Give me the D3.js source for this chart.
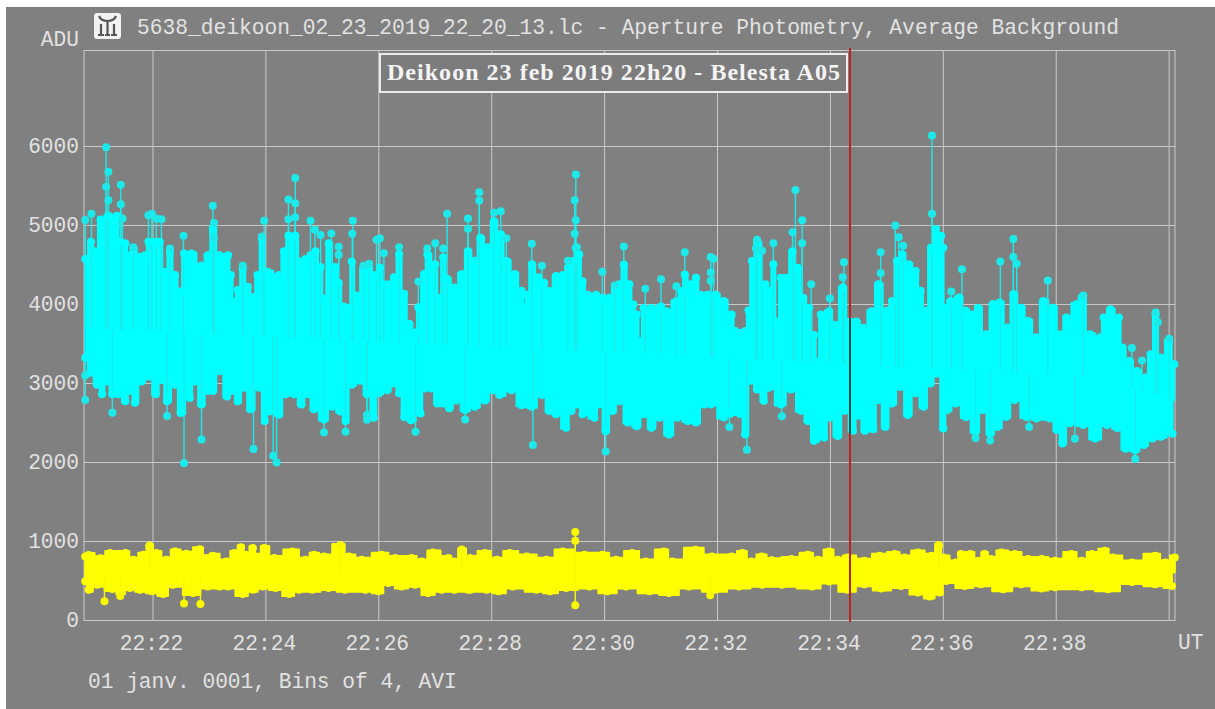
<!DOCTYPE html>
<html>
<head>
<meta charset="utf-8">
<script src="https://cdn.jsdelivr.net/npm/d3@7"></script>
<style>
  html, body { margin: 0; padding: 0; background: #fff; }
  svg { display: block; }
  text { font-family: "Liberation Mono", monospace; fill: #e2e2e2; }
</style>
</head>
<body>
<div id="chart"></div>
<script>
// readings, time in minutes past 22:00
const cyanTopMin = [20.80,20.90,20.98,21.07,21.21,21.36,21.42,21.51,21.57,21.65,21.77,21.86,21.92,22.04,22.12,22.21,22.30,22.39,22.48,22.55,22.68,22.86,22.97,23.06,23.18,23.33,23.38,23.44,23.50,23.59,23.68,23.77,23.85,23.93,24.03,24.23,24.32,24.40,24.52,24.62,24.70,24.79,24.88,24.97,25.03,25.11,25.23,25.29,25.38,25.47,25.52,25.61,25.73,25.82,25.94,26.02,26.09,26.18,26.27,26.36,26.45,26.54,26.65,26.70,26.80,26.86,27.00,27.07,27.14,27.21,27.34,27.47,27.58,27.70,27.80,27.93,28.04,28.16,28.26,28.41,28.53,28.59,28.62,28.71,28.83,28.93,29.02,29.14,29.26,29.35,29.44,29.49,29.55,29.61,29.70,29.85,29.96,30.08,30.18,30.26,30.34,30.44,30.51,30.57,30.63,30.69,30.82,31.00,31.10,31.27,31.36,31.42,31.52,31.62,31.70,31.82,31.97,32.11,32.25,32.32,32.49,32.55,32.61,32.70,32.85,32.92,32.99,33.06,33.12,33.21,33.33,33.42,33.52,33.62,33.71,33.77,33.83,33.98,34.08,34.22,34.34,34.46,34.58,34.73,34.85,35.00,35.09,35.18,35.27,35.39,35.51,35.60,35.68,35.78,35.87,35.96,36.00,36.01,36.13,36.28,36.40,36.52,36.61,36.76,36.88,37.00,37.14,37.24,37.38,37.50,37.65,37.77,37.95,38.07,38.18,38.36,38.45,38.60,38.78,38.84,38.96,39.11,39.17,39.29,39.43,39.58,39.67,39.76,39.85,40.00,40.09];
const cyanTopAdu = [4600,4820,4700,5100,5150,5150,4820,4800,4650,4730,4630,4650,4820,4820,4820,4440,4700,4400,4190,4670,4670,4520,4650,4990,4650,4650,4400,4060,4210,4480,4250,4120,4400,4860,4440,4400,4700,4900,4900,4570,4600,4650,4700,4500,4100,4800,4500,4300,4000,3980,4570,4140,4480,4520,4400,4490,4280,4280,4370,4660,4160,3780,3670,3990,4410,4660,4535,4110,4620,4350,4240,4410,4700,4580,4870,4750,5080,4915,4580,4410,4200,3990,4150,4535,4370,4300,4195,4385,4400,4490,4575,4745,4660,4320,4150,4150,4110,4110,4240,4280,4530,4280,4025,3900,3560,3980,3980,4000,3940,4065,4195,4405,4280,4365,4150,4150,4150,4070,3900,3690,3690,3950,4575,4810,4280,4200,4535,3810,4365,4365,4700,4490,4110,3985,3640,3300,3900,3940,3770,4240,3810,3810,3730,3940,4280,3945,4070,4580,4660,4535,4450,4200,3945,4745,4980,4895,4745,3985,4070,4115,3945,3900,3985,3650,4030,4050,3735,4155,3985,3820,3610,4070,3985,3650,3860,4030,4115,3650,3610,3860,3965,3860,3480,3310,3185,3100,3395,3900,3355,3565,3270];

const cyanBottomMin = [20.80,20.89,21.01,21.10,21.18,21.28,21.39,21.51,21.60,21.68,21.80,21.92,22.05,22.15,22.25,22.39,22.49,22.65,22.74,22.86,22.97,23.06,23.18,23.31,23.41,23.50,23.62,23.72,23.88,23.98,24.06,24.23,24.35,24.50,24.63,24.73,24.85,25.03,25.17,25.32,25.41,25.52,25.67,25.79,25.91,26.00,26.15,26.27,26.36,26.45,26.57,26.74,26.80,26.92,27.04,27.13,27.25,27.37,27.53,27.70,27.88,28.02,28.14,28.35,28.53,28.71,28.89,29.02,29.14,29.32,29.41,29.52,29.61,29.82,29.91,30.02,30.14,30.26,30.41,30.57,30.70,30.83,30.97,31.14,31.29,31.47,31.62,31.76,31.88,32.11,32.22,32.40,32.49,32.60,32.70,32.82,32.91,33.12,33.30,33.48,33.60,33.71,33.89,33.98,34.13,34.25,34.40,34.49,34.61,34.76,34.85,34.97,35.09,35.24,35.37,35.51,35.65,35.77,35.89,36.00,36.07,36.22,36.40,36.57,36.70,36.83,36.96,37.11,37.26,37.47,37.65,37.89,38.01,38.11,38.24,38.48,38.69,38.90,39.08,39.23,39.40,39.55,39.70,39.85,40.06];
const cyanBottomAdu = [3300,3110,2960,2840,3000,2840,2840,2750,2880,2730,3000,3060,2840,3020,2750,2960,2600,2790,3000,2710,2880,2880,3130,2810,2880,2750,2920,2650,2920,2500,2620,2580,2840,2840,2710,2840,2650,2520,2680,2620,2500,2960,3010,2840,2540,2850,2890,2975,2850,2550,2510,2595,2910,2910,2720,2720,2660,2760,2640,2680,2760,2890,2830,2890,2700,2680,2830,2625,2585,2415,2625,2710,2585,2540,2710,2370,2625,2750,2480,2435,2585,2415,2540,2330,2540,2500,2480,2710,2710,2545,2590,2590,2330,3010,2900,2755,2920,2710,2900,2630,2500,2250,2290,2540,2310,2630,2375,2565,2375,2395,2765,2425,2720,2930,2575,2850,2680,2975,3100,2405,2640,2720,2550,2365,2640,2340,2425,2550,2765,2550,2530,2530,2385,2215,2470,2450,2280,2450,2410,2150,2130,2195,2280,2300,2340];

// isolated points that stick out of the band
const cyanSpikeMin = [20.80,20.91,21.17,21.21,21.17,21.21,21.43,21.43,21.46,21.65,21.92,21.98,22.06,22.15,22.30,22.54,23.06,23.08,23.08,23.59,23.97,23.93,24.40,24.40,24.52,24.52,24.52,24.79,24.87,24.97,25.16,25.29,25.29,25.54,25.53,25.73,25.83,25.96,26.02,26.09,26.36,26.70,26.86,27.00,27.14,27.21,27.58,27.58,27.78,27.78,28.04,28.16,28.26,28.71,28.89,29.35,29.49,29.47,29.49,29.47,29.51,29.96,30.18,30.34,30.72,31.00,31.27,31.42,31.88,31.88,31.88,31.93,32.70,32.68,32.79,32.99,33.38,33.33,33.50,33.50,33.66,33.99,34.24,34.22,34.89,34.89,35.15,35.21,35.29,35.80,35.80,36.14,36.33,37.01,37.24,37.24,37.30,37.85,38.48,39.34,39.52,39.76,39.80,40.00,
  20.80,20.80,21.28,22.25,22.55,22.86,23.78,24.13,24.19,25.03,25.41,25.79,25.79,26.65,27.53,28.73,30.02,32.52,32.21,33.14,38.33,37.52,36.57,36.83,39.40];
const cyanSpikeAdu = [5070,5150,5990,5680,5490,5320,5515,5270,5090,4725,5130,5150,5090,5080,4710,4870,5250,5030,4840,4490,5060,4860,5330,5080,5600,5280,5105,5060,4945,4880,4900,4730,4630,5060,4895,4490,4515,4820,4840,4650,4725,4290,4710,4775,4710,5150,5090,4960,5420,5315,5160,5180,4840,4770,4490,4555,5645,5320,5065,4895,4725,4415,4240,4735,4200,4320,4230,4660,4600,4405,4300,4580,4820,4710,4680,4775,5450,4915,5065,4775,4255,4080,4535,4345,4660,4400,5000,4850,4745,6140,5150,4165,4445,4545,4830,4600,4515,4305,4115,3450,3290,3900,3775,3565,
  3100,2790,2630,2590,1990,2290,2170,2085,2000,2380,2390,2600,2540,2390,2545,2220,2140,2160,2450,2585,2300,2450,2310,2280,2045];

// rough centre of the cyan band along the run
const cyanMidMin = [20.8, 30, 38.5, 40.1];
const cyanMidAdu = [3700, 3400, 3100, 2800];

const yellowTopMin = [20.80,20.86,21.07,21.24,21.51,21.65,21.83,21.94,22.06,22.24,22.39,22.59,22.83,22.94,23.06,23.30,23.44,23.56,23.65,23.77,23.85,23.97,24.15,24.47,24.70,24.85,25.03,25.32,25.47,25.70,26.05,26.29,26.58,26.76,26.96,27.23,27.34,27.47,27.62,27.88,28.09,28.32,28.62,28.97,29.26,29.64,29.96,30.20,30.49,30.73,31.05,31.20,31.61,31.90,32.25,32.44,32.60,32.78,32.96,33.31,33.60,33.78,33.98,34.13,34.31,34.60,34.87,35.14,35.31,35.55,35.79,35.92,36.00,36.22,36.31,36.48,36.62,36.73,36.85,37.03,37.27,37.50,37.74,37.98,38.27,38.45,38.63,38.86,39.00,39.34,39.75,39.93,40.10];
const yellowTopAdu = [860,880,840,905,905,820,883,987,904,820,925,895,954,841,870,799,904,979,883,967,862,967,841,925,820,883,862,995,862,820,883,841,841,799,912,841,799,937,841,904,820,904,862,820,925,883,883,820,904,799,925,799,946,862,862,904,799,862,812,828,883,820,925,820,849,807,870,891,849,912,870,996,849,786,891,891,807,891,828,912,891,828,828,807,891,807,891,933,849,786,870,786,849];

const yellowBottomMin = [20.80,20.86,21.01,21.28,21.42,21.59,21.77,21.98,22.18,22.35,22.71,22.97,23.18,23.33,23.59,23.77,23.94,24.17,24.41,24.59,24.82,25.11,25.40,25.76,25.99,26.17,26.40,26.64,26.87,27.11,27.34,27.58,27.62,27.91,28.12,28.38,28.79,29.03,29.32,29.73,30.05,30.38,30.79,31.14,31.49,31.96,32.38,32.79,33.14,33.67,33.98,34.30,34.60,34.90,35.25,35.55,35.76,35.93,36.05,36.38,36.67,37.06,37.38,37.74,37.98,38.45,38.92,39.34,39.75,40.05];
const yellowBottomAdu = [445,340,402,349,310,360,340,319,285,402,298,381,381,381,285,340,381,360,285,340,340,360,340,340,319,423,381,402,298,340,340,340,340,340,319,381,340,319,360,381,319,381,319,298,381,340,381,402,402,381,444,340,408,353,387,303,252,303,450,387,408,345,408,353,370,370,345,437,408,387];

const yellowSpikeMin = [21.14,21.42,22.55,22.84,29.48,29.48,29.48,31.87,21.94,25.32,27.47,35.92];
const yellowSpikeAdu = [243,310,214,210,1120,1010,193,320,950,955,900,955];
const yellowMidMin = [20.8, 40.1];
const yellowMidAdu = [620, 620];

const yTicks = [0,1000,2000,3000,4000,5000,6000];
const xTicks = [22,24,26,28,30,32,34,36,38,40];
const xTickLabels = ["22:22","22:24","22:26","22:28","22:30","22:32","22:34","22:36","22:38",""];

const titleText = "5638_deikoon_02_23_2019_22_20_13.lc - Aperture Photometry, Average Background";
const captionText = "Deikoon 23 feb 2019 22h20 - Belesta A05";
const footerText = "01 janv. 0001, Bins of 4, AVI";

const cursorDarkAdu = [2370, 3830];   // where the cursor sits on the cyan band it looks black

const width = 1215, height = 709;
const dotR = 4;
const svg = d3.select("#chart").append("svg").attr("width", width).attr("height", height);

svg.append("rect").attr("x", 6).attr("y", 7).attr("width", width - 6).attr("height", height - 7).attr("fill", "#808080");

const x = d3.scaleLinear().domain([20.778, 40.104]).range([84, 1175]);
const y = d3.scaleLinear().domain([0, 7215]).range([620.5, 50.5]);

// axes + grid
const xAxis = d3.axisBottom(x).tickValues(xTicks).tickSize(-570).tickSizeOuter(0).tickPadding(14).offset(0)
  .tickFormat((d, i) => xTickLabels[i]);
const yAxis = d3.axisLeft(y).tickValues(yTicks).tickSize(-1091).tickSizeOuter(0).tickPadding(5).offset(0);

const gx = svg.append("g").attr("transform", "translate(0,620.5)").call(xAxis);
const gy = svg.append("g").attr("transform", "translate(84,0)").call(yAxis.tickFormat(d => d));
gx.select(".domain").remove();
gy.select(".domain").remove();
svg.selectAll(".tick line").attr("stroke", "#c9c9c9").attr("stroke-width", 1);
gx.selectAll("text").attr("font-size", 21.2).attr("dx", -1.5).attr("fill", "#e2e2e2");
gy.selectAll("text").attr("font-size", 21.2).attr("fill", "#e2e2e2");
svg.append("rect").attr("x", 84).attr("y", 50.5).attr("width", 1091).attr("height", 570)
  .attr("fill", "none").attr("stroke", "#c9c9c9");

// draws one light curve: solid band, edge markers, stems and isolated markers
function drawBand(topMin, topAdu, botMin, botAdu, spikeMin, spikeAdu, midMin, midAdu, inset, color, spikeColor) {
  const g = svg.append("g");
  const top = topMin.map((t, i) => ({ t: t, v: topAdu[i] }));
  const bot = botMin.map((t, i) => ({ t: t, v: botAdu[i] }));
  const spikes = spikeMin.map((t, i) => ({ t: t, v: spikeAdu[i] }));
  const mid = d3.scaleLinear().domain(midMin).range(midAdu);

  // inset: how far the edge markers sit inside the edge that was read
  const topArea = d3.area().curve(d3.curveStep).x(d => x(d.t)).y0(d => y(mid(d.t)) + 1).y1(d => y(d.v) + inset / 2);
  const botArea = d3.area().curve(d3.curveStep).x(d => x(d.t)).y0(d => y(mid(d.t)) - 1).y1(d => y(d.v) - inset / 2);
  [topArea(top), botArea(bot)].forEach(p => {
    g.append("path").attr("d", p).attr("fill", color)
      .attr("stroke", color).attr("stroke-width", 2).attr("stroke-linejoin", "round");
  });

  g.selectAll(".stem").data(spikes).enter().append("line")
    .attr("x1", d => x(d.t)).attr("x2", d => x(d.t))
    .attr("y1", d => y(d.v)).attr("y2", d => y(mid(d.t)))
    .attr("stroke", spikeColor).attr("stroke-width", 1.4);

  g.selectAll(".top").data(top).enter().append("circle")
    .attr("cx", d => x(d.t)).attr("cy", d => y(d.v) + inset).attr("r", dotR).attr("fill", color);
  g.selectAll(".bot").data(bot).enter().append("circle")
    .attr("cx", d => x(d.t)).attr("cy", d => y(d.v) - inset).attr("r", dotR).attr("fill", color);
  g.selectAll(".spike").data(spikes).enter().append("circle")
    .attr("cx", d => x(d.t)).attr("cy", d => y(d.v)).attr("r", dotR).attr("fill", spikeColor);
}

drawBand(cyanTopMin, cyanTopAdu, cyanBottomMin, cyanBottomAdu, cyanSpikeMin, cyanSpikeAdu, cyanMidMin, cyanMidAdu, 2, "#00ffff", "#1ceaea");
drawBand(yellowTopMin, yellowTopAdu, yellowBottomMin, yellowBottomAdu, yellowSpikeMin, yellowSpikeAdu, yellowMidMin, yellowMidAdu, dotR, "#ffff00", "#f8f800");

// caption box
svg.append("rect").attr("x", 380).attr("y", 54).attr("width", 467).attr("height", 38)
  .attr("fill", "#7c7c7c").attr("stroke", "#ececec").attr("stroke-width", 2);
svg.append("text").attr("x", 387).attr("y", 80)
  .attr("textLength", 453).attr("lengthAdjust", "spacing")
  .style("font-family", "'Liberation Serif', serif").style("font-weight", "bold").style("font-size", "24px")
  .style("fill", "#f4f4f4").text(captionText);

// cursor
svg.append("line").attr("x1", 850).attr("x2", 850).attr("y1", 48).attr("y2", 622)
  .attr("stroke", "#b8261e").attr("stroke-width", 2);
svg.append("line").attr("x1", 850).attr("x2", 850)
  .attr("y1", y(cursorDarkAdu[1])).attr("y2", y(cursorDarkAdu[0]))
  .attr("stroke", "#1d4a45").attr("stroke-width", 2);

// texts
svg.append("text").attr("x", 137).attr("y", 34).attr("font-size", 21.25).text(titleText);
svg.append("text").attr("x", 79).attr("y", 46).attr("text-anchor", "end").attr("font-size", 21.2).text("ADU");
svg.append("text").attr("x", 1178).attr("y", 649).attr("font-size", 21.2).text("UT");
svg.append("text").attr("x", 88).attr("y", 688).attr("font-size", 21.2).text(footerText);

// window icon
const icon = svg.append("g").attr("transform", "translate(94,13)");
icon.append("rect").attr("width", 27).attr("height", 26).attr("rx", 3).attr("fill", "#f2f2f2");
icon.append("path").attr("d", "M5 3 Q7 8 13.5 8 Q20 8 22 3 M13.5 8 L13.5 22 M7 11 L7 22 M20 11 L20 22 M4 22 L10 22 M11 22 L16 22 M17 22 L23 22")
  .attr("fill", "none").attr("stroke", "#555").attr("stroke-width", 2.2);
</script>
</body>
</html>
